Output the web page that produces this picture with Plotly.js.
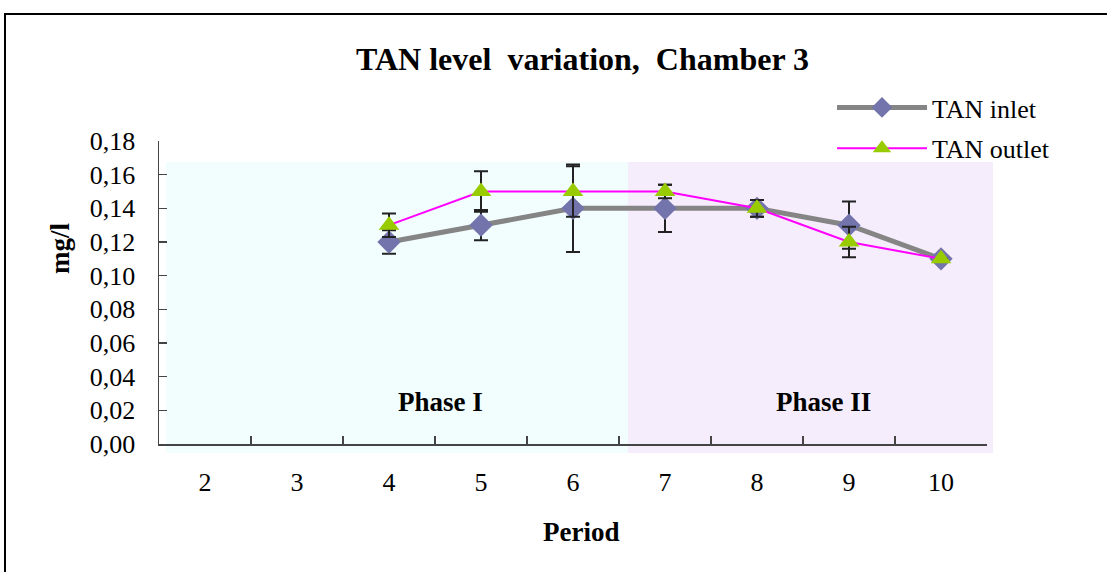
<!DOCTYPE html>
<html>
<head>
<meta charset="utf-8">
<script src="https://cdn.plot.ly/plotly-3.0.1.min.js"></script>
<style>
html,body{margin:0;padding:0;background:#fff;overflow:hidden;}
#frame{position:absolute;left:4px;top:13px;width:1200px;height:700px;border:2px solid #000;box-sizing:border-box;pointer-events:none;z-index:5;}
#chart{position:absolute;left:0;top:0;width:1107px;height:572px;}
</style>
</head>
<body>
<div id="chart"></div>
<div id="frame"></div>
<script>
var periods = ['2','3','4','5','6','7','8','9','10'];
var inletValues  = [null, null, 0.12, 0.13, 0.14, 0.14, 0.14, 0.13, 0.11];
var inletErrors  = [null, null, 0.007, 0.009, 0.026, 0.014, 0.005, 0.014, 0];
var outletValues = [null, null, 0.13, 0.15, 0.15, 0.15, 0.14, 0.12, 0.11];
var outletErrors = [null, null, 0.007, 0.012, 0.015, 0.004, 0.005, 0.009, 0];
var yTicks = [0, 0.02, 0.04, 0.06, 0.08, 0.10, 0.12, 0.14, 0.16, 0.18];

var serif = 'Liberation Serif, Times New Roman, serif';

var traces = [
  {
    x: periods, y: inletValues, name: 'TAN inlet', type: 'scatter', mode: 'lines+markers',
    legendgroup: 'a',
    line: {color: '#858585', width: 5},
    marker: {symbol: 'diamond', size: 18, color: '#7474AC'},
    error_y: {type: 'data', array: inletErrors, visible: true, color: '#222222', thickness: 2, width: 7},
    connectgaps: false
  },
  {
    x: periods, y: outletValues, name: 'TAN outlet', type: 'scatter', mode: 'lines+markers',
    legendgroup: 'b',
    line: {color: '#FF00FF', width: 2},
    marker: {symbol: 'triangle-up', size: 18, color: '#99CC00'},
    error_y: {type: 'data', array: outletErrors, visible: true, color: '#222222', thickness: 2, width: 7},
    connectgaps: false
  }
];

var layout = {
  width: 1107, height: 572,
  margin: {l: 159, r: 120, t: 141, b: 128, pad: 0},
  paper_bgcolor: '#ffffff', plot_bgcolor: 'rgba(0,0,0,0)',
  separators: ', ',
  font: {family: serif, size: 26, color: '#000'},
  showlegend: true,
  legend: {
    x: 0.8128, y: 1.188, xanchor: 'left', yanchor: 'top',
    font: {family: serif, size: 26, color: '#000'},
    bgcolor: 'rgba(0,0,0,0)', borderwidth: 0,
    itemwidth: 90, traceorder: 'grouped', tracegroupgap: 4
  },
  xaxis: {
    type: 'category', range: [-0.5, 8.5], fixedrange: true,
    showline: true, linecolor: '#444', linewidth: 1.5, mirror: false,
    showgrid: false, zeroline: false,
    ticks: 'inside', ticklen: 8, tickcolor: '#444', tickwidth: 1.2,
    tickson: 'boundaries',
    ticklabelstandoff: 14,
    tickfont: {family: serif, size: 26, color: '#000'}
  },
  yaxis: {
    range: [0, 0.18], fixedrange: true,
    tickvals: yTicks, tickformat: '.2f',
    showline: true, linecolor: '#444', linewidth: 1.5,
    showgrid: false, zeroline: false,
    ticks: 'inside', ticklen: 8, tickcolor: '#444', tickwidth: 1.2,
    ticklabelstandoff: 17,
    tickfont: {family: serif, size: 26, color: '#000'}
  },
  shapes: [
    {type: 'rect', xref: 'paper', yref: 'paper', x0: 0.00845, x1: 0.5664, y0: -0.0297, y1: 0.9307,
     fillcolor: '#F2FEFE', line: {width: 0}, layer: 'below'},
    {type: 'rect', xref: 'paper', yref: 'paper', x0: 0.5664, x1: 1.0072, y0: -0.0297, y1: 0.9307,
     fillcolor: '#F6EDFC', line: {width: 0}, layer: 'below'}
  ],
  annotations: [
    {text: '<b>TAN level  variation,  Chamber 3</b>', xref: 'paper', yref: 'paper', x: 0.511, y: 1.2706,
     xanchor: 'center', yanchor: 'middle', showarrow: false, font: {family: serif, size: 32, color: '#000'}},
    {text: '<b>Period</b>', xref: 'paper', yref: 'paper', x: 0.5097, y: -0.2904,
     xanchor: 'center', yanchor: 'middle', showarrow: false, font: {family: serif, size: 27, color: '#000'}},
    {text: '<b>mg/l</b>', xref: 'paper', yref: 'paper', x: -0.1196, y: 0.6469, textangle: -90,
     xanchor: 'center', yanchor: 'middle', showarrow: false, font: {family: serif, size: 27, color: '#000'}},
    {text: '<b>Phase I</b>', xref: 'paper', yref: 'paper', x: 0.3394, y: 0.1386,
     xanchor: 'center', yanchor: 'middle', showarrow: false, font: {family: serif, size: 27, color: '#000'}},
    {text: '<b>Phase II</b>', xref: 'paper', yref: 'paper', x: 0.8025, y: 0.1386,
     xanchor: 'center', yanchor: 'middle', showarrow: false, font: {family: serif, size: 27, color: '#000'}}
  ]
};

Plotly.newPlot('chart', traces, layout, {displayModeBar: false, staticPlot: true});
</script>
</body>
</html>
